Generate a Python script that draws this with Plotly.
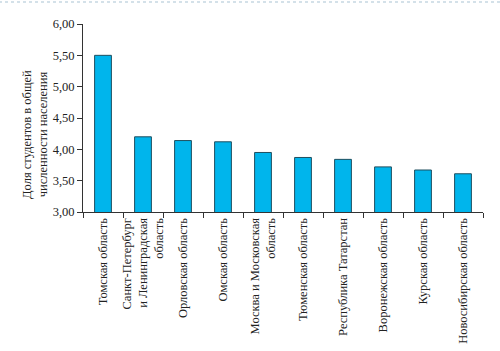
import plotly.graph_objects as go

categories = [
    "Томская область",
    "Санкт-Петербург<br>и Ленинградская<br>область",
    "Орловская область",
    "Омская область",
    "Москва и Московская<br>область",
    "Тюменская область",
    "Республика Татарстан",
    "Воронежская область",
    "Курская область",
    "Новосибирская область",
]
values = [5.50, 4.20, 4.14, 4.12, 3.95, 3.87, 3.84, 3.72, 3.67, 3.61]
y_ticks = [3.0, 3.5, 4.0, 4.5, 5.0, 5.5, 6.0]
y_title = "Доля студентов в общей<br>численности населения"

font_family = "Liberation Serif"
fs = 12.5

fig = go.Figure(
    go.Bar(
        x=categories,
        y=values,
        marker=dict(color="#00b5ec", line=dict(color="#1f4f5f", width=1)),
        width=0.42,
    )
)

fig.update_layout(
    width=500,
    height=351,
    margin=dict(l=83, r=17, t=24, b=139),
    paper_bgcolor="white",
    plot_bgcolor="white",
    separators=", ",
    font=dict(family=font_family, size=fs, color="#222"),
    showlegend=False,
    shapes=[
        dict(
            type="line", xref="paper", yref="paper",
            x0=-0.21, x1=1.05, y0=1.117, y1=1.117,
            line=dict(color="#a9c3d3", width=1, dash="dot"),
        )
    ],
    annotations=[
        dict(
            text=y_title, xref="paper", yref="paper",
            x=-0.12, y=0.41, xanchor="center", yanchor="middle",
            textangle=-90, showarrow=False,
            font=dict(family=font_family, size=fs, color="#222"),
        )
    ],
)

fig.update_xaxes(
    type="category",
    automargin=False,
    showline=True, linecolor="#333", linewidth=1,
    ticks="outside", tickson="boundaries", ticklen=5, tickcolor="#333",
    tickangle=-90,
    tickfont=dict(family=font_family, size=fs, color="#222"),
    showgrid=False,
    range=[-0.5, 9.5],
)

fig.update_yaxes(
    automargin=False,
    range=[3.0, 6.0],
    tickvals=y_ticks,
    tickformat=".2f",
    showline=True, linecolor="#333", linewidth=1,
    ticks="outside", ticklen=5, tickcolor="#333",
    tickfont=dict(family=font_family, size=fs, color="#222"),
    showgrid=False,
    zeroline=False,
)

fig.write_html("out.html")
